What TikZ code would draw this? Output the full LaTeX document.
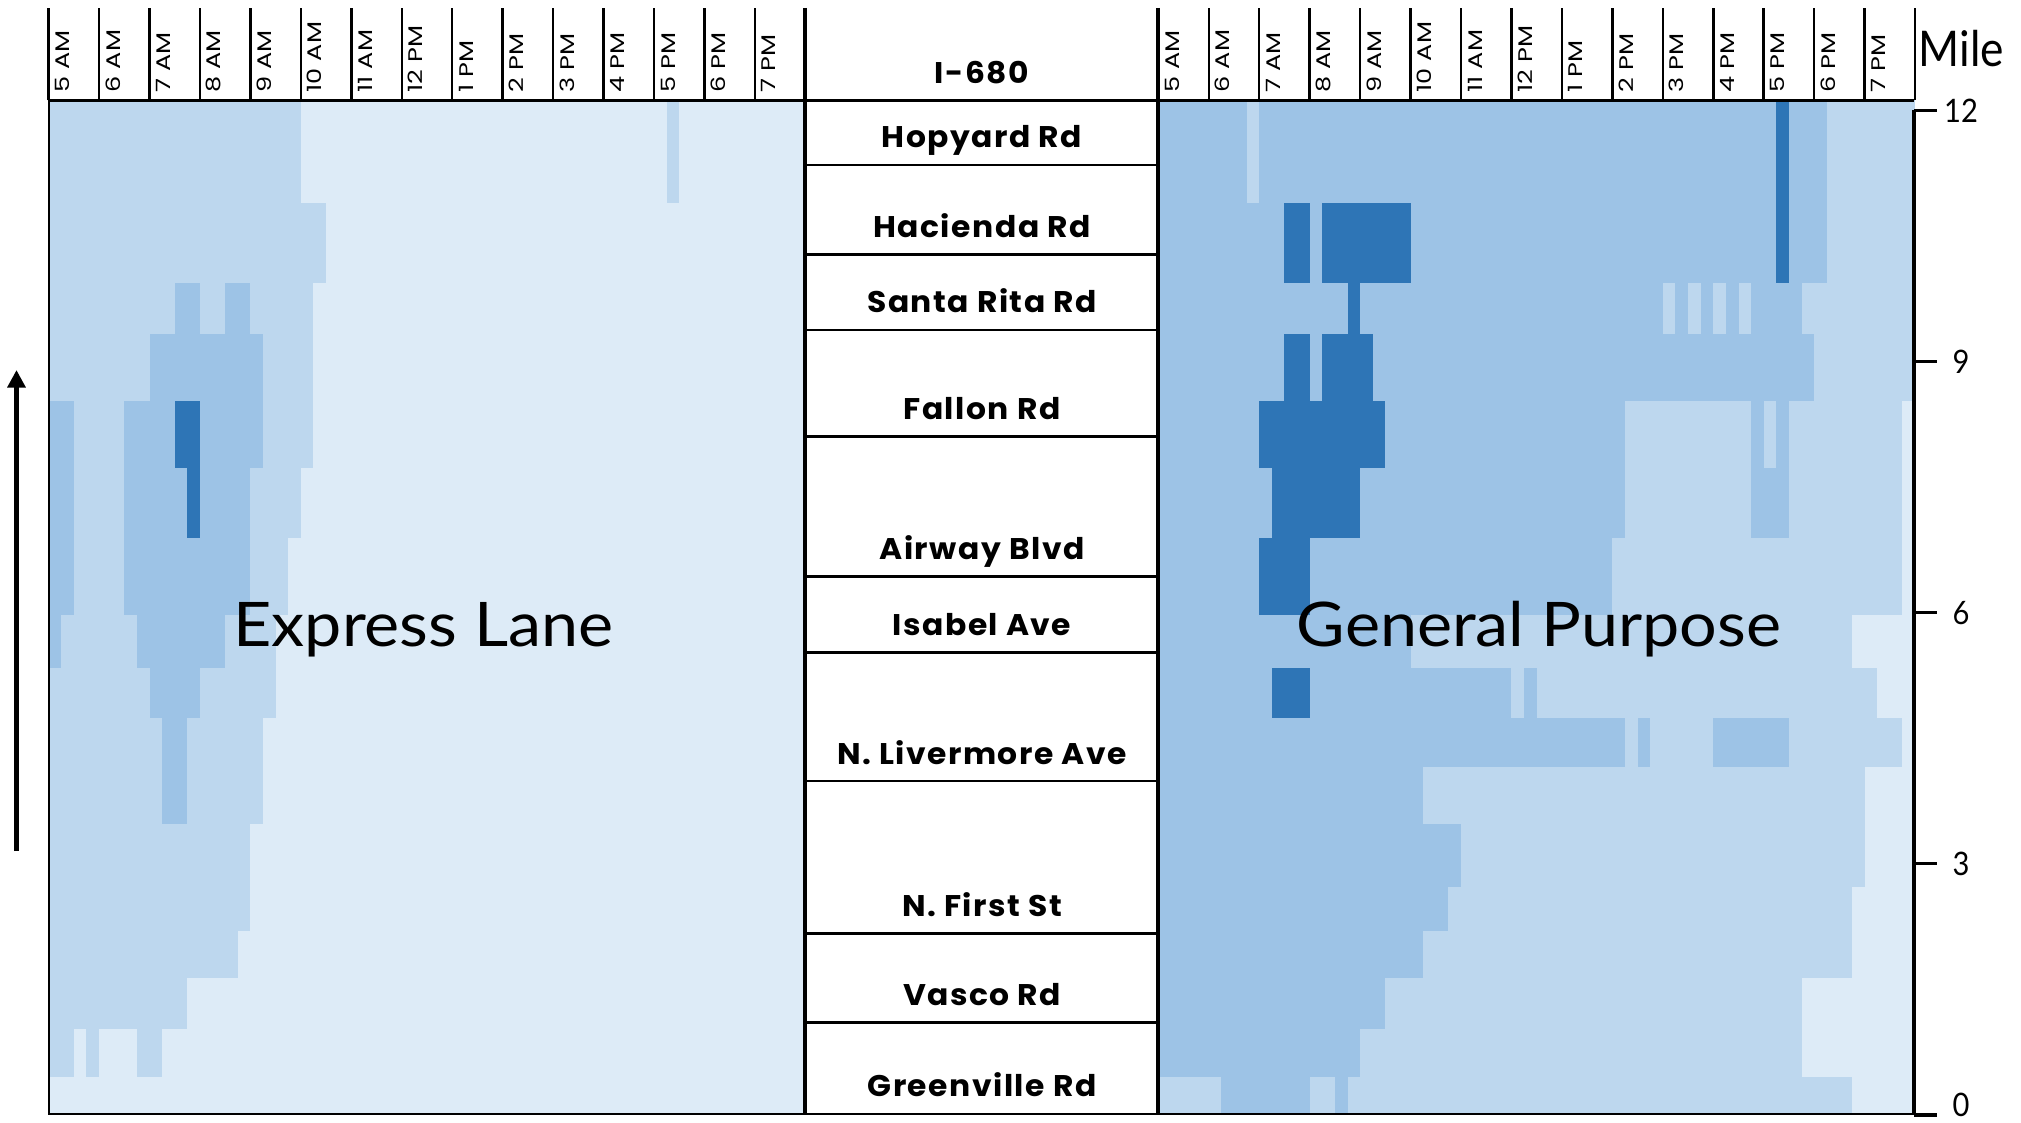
\documentclass[tikz,border=0pt]{standalone}
\usepackage{fontspec}
\setmainfont{Lato}
\newfontfamily\roadfont{Poppins}[FakeStretch=1.05,LetterSpace=5]
\newfontfamily\hourfont{Poppins}[FakeStretch=1.3]
\newfontfamily\titlefont{Lato}[FakeStretch=1.08]
\newfontfamily\milefont{Lato}[FakeStretch=0.9]
\usetikzlibrary{arrows.meta}
\definecolor{fast}{HTML}{DDEBF7}
\definecolor{mid}{HTML}{BDD7EE}
\definecolor{slow}{HTML}{9DC3E6}
\definecolor{jam}{HTML}{2E75B6}
\tikzset{
  hour/.style={rotate=90, anchor=base west, inner sep=0pt, font=\hourfont\fontsize{5.6}{6}\selectfont},
  road/.style={anchor=base, inner sep=0pt, font=\roadfont\bfseries\fontsize{8.5}{10}\selectfont},
  paneltitle/.style={anchor=base, inner sep=0pt, font=\titlefont\fontsize{17.5}{20}\selectfont},
  milelabel/.style={inner sep=0pt, font=\milefont\fontsize{9.2}{11}\selectfont},
  grid/.style={line width=0.7pt},
  frame/.style={line width=1.15pt}
}
\begin{document}
\begin{tikzpicture}
  \useasboundingbox (0,0) rectangle (20.21,11.22);

  % Express Lane
  \begin{scope}[shift={(0.486,0)}, x=0.12613cm]
    \fill[fast] (0,10.215) rectangle (60,0.083);
    \foreach \a/\b/\t/\u in {0/20/10.215/9.19, 49/50/10.215/9.19, 0/22/9.19/8.39,
      0/21/8.39/6.54, 0/20/6.54/5.84, 0/19/5.84/5.07, 0/18/5.07/4.043,
      0/17/4.043/2.98, 0/16/2.98/1.91, 0/15/1.91/1.445, 0/11/1.445/0.932,
      0/2/0.932/0.452, 3/4/0.932/0.452, 7/9/0.932/0.452}
      \fill[mid] (\a,\t) rectangle (\b,\u);
    \foreach \a/\b/\t/\u in {10/12/8.39/7.88, 14/16/8.39/7.88, 8/17/7.88/7.21,
      0/2/7.21/5.07, 6/17/7.21/6.54, 6/16/6.54/5.07, 0/1/5.07/4.545,
      7/14/5.07/4.545, 8/12/4.545/4.043, 9/11/4.043/2.98}
      \fill[slow] (\a,\t) rectangle (\b,\u);
    \foreach \a/\b/\t/\u in {10/12/7.21/6.54, 11/12/6.54/5.84}
      \fill[jam] (\a,\t) rectangle (\b,\u);
  \end{scope}

  % General Purpose
  \begin{scope}[shift={(11.583,0)}, x=0.12613cm]
    \fill[slow] (0,10.215) rectangle (60,0.083);
    \foreach \a/\b/\t/\u in {53/60/10.215/8.39, 7/8/10.215/9.19,
      40/41/8.39/7.88, 42/43/8.39/7.88, 44/45/8.39/7.88, 46/47/8.39/7.88,
      51/60/8.39/7.88, 52/60/7.88/7.21, 37/47/7.21/5.84, 50/60/7.21/5.84,
      48/49/7.21/6.54, 36/60/5.84/5.07, 20/60/5.07/4.545, 28/29/4.545/4.043,
      30/60/4.545/4.043, 37/38/4.043/3.552, 39/44/4.043/3.552, 50/60/4.043/3.552,
      21/60/3.552/2.98, 24/60/2.98/2.35, 23/60/2.35/1.91, 21/60/1.91/1.445,
      18/60/1.445/0.932, 16/60/0.932/0.452, 0/5/0.452/0.083, 12/14/0.452/0.083,
      15/60/0.452/0.083}
      \fill[mid] (\a,\t) rectangle (\b,\u);
    \foreach \a/\b/\t/\u in {59/60/7.21/5.07, 55/60/5.07/4.545, 57/60/4.545/4.043,
      59/60/4.043/3.552, 56/60/3.552/2.35, 55/60/2.35/1.445, 51/60/1.445/0.452,
      55/60/0.452/0.083}
      \fill[fast] (\a,\t) rectangle (\b,\u);
    \foreach \a/\b/\t/\u in {49/50/10.215/8.39, 10/12/9.19/8.39, 13/20/9.19/8.39,
      15/16/8.39/7.88, 10/12/7.88/7.21, 13/17/7.88/7.21, 8/18/7.21/6.54,
      9/16/6.54/5.84, 8/12/5.84/5.07, 9/12/4.545/4.043}
      \fill[jam] (\a,\t) rectangle (\b,\u);
  \end{scope}

  % Heures
  \foreach \px/\side in {0.486/L, 11.583/R} {
    \foreach \k in {0,...,15}
      \draw[grid] ({\px+\k*0.5045},10.215) -- ({\px+\k*0.5045},11.14);
    \foreach \h [count=\i from 0] in {5 AM,6 AM,7 AM,8 AM,9 AM,10 AM,11 AM,12 PM,1 PM,2 PM,3 PM,4 PM,5 PM,6 PM,7 PM}
      \node[hour] (hour-\side-\i) at ({\px+\i*0.5045+0.21},10.29) {\h};
  }

  % Cadres
  \draw[line width=0.6pt] (0.486,10.215) -- (0.486,0.083) -- (19.14,0.083);
  \draw[line width=0.85pt] (0.486,10.215) -- (19.14,10.215);
  \draw[frame] (8.054,11.14) -- (8.054,0.083);
  \draw[frame] (11.583,11.14) -- (11.583,0.083);
  \foreach \y in {9.57,8.672,7.92,6.855,5.452,4.693,3.41,1.885,0.995}
    \draw[line width=0.8pt] (8.054,\y) -- (11.583,\y);

  % Sorties
  \foreach \y/\name [count=\i] in {10.215/I-680, 9.57/Hopyard Rd, 8.672/Hacienda Rd,
    7.92/Santa Rita Rd, 6.855/Fallon Rd, 5.452/Airway Blvd, 4.693/Isabel Ave,
    3.41/N. Livermore Ave, 1.885/N. First St, 0.995/Vasco Rd, 0.083/Greenville Rd}
    \node[road] (road-\i) at (9.82,\y+0.17) {\name};

  \node[paneltitle] (express) at (4.235,4.76) {Express Lane};
  \node[paneltitle] (general) at (15.39,4.76) {General Purpose};

  % Axe des miles
  \draw[line width=1pt] (19.14,10.116) -- (19.14,0.072);
  \foreach \m in {0,3,...,12} {
    \draw[line width=1pt] (19.14,{0.072+0.837*\m}) -- ++(0.23,0);
    \node[milelabel] (mile-\m) at (19.61,{max(0.072+0.837*\m,0.17)}) {\m};
  }
  \node[milelabel, anchor=base west, font=\milefont\fontsize{14}{16}\selectfont] (mile) at (19.18,10.55) {Mile};

  % Sens de circulation
  \coordinate (dir-start) at (0.165,2.71);
  \coordinate (dir-end) at (0.165,7.52);
  \draw[line width=1.7pt, -{Triangle[length=5pt,width=5pt]}] (dir-start) -- (dir-end);
\end{tikzpicture}
\end{document}
